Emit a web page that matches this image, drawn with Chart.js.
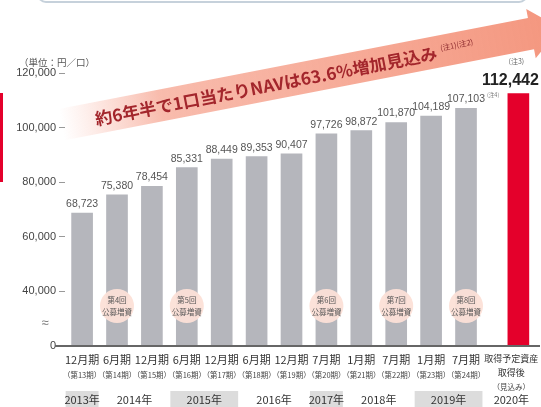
<!DOCTYPE html>
<html lang="ja">
<head>
<meta charset="utf-8">
<script src="https://cdn.jsdelivr.net/npm/chart.js@4.4.1/dist/chart.umd.min.js"></script>
<style>
  html, body { margin: 0; padding: 0; background: #fff; }
  #wrap { width: 541px; height: 407px; position: relative; }
</style>
</head>
<body>
<div id="wrap"><canvas id="chart"></canvas></div>
<script>
// 1口当たりNAV（円／口）
const periods = ['12月期', '6月期', '12月期', '6月期', '12月期', '6月期', '12月期', '7月期', '1月期', '7月期', '1月期', '7月期', ['取得予定資産', '取得後']];
const periodNos = ['（第13期）', '（第14期）', '（第15期）', '（第16期）', '（第17期）', '（第18期）', '（第19期）', '（第20期）', '（第21期）', '（第22期）', '（第23期）', '（第24期）', '（見込み）'];
const navValues = [68723, 75380, 78454, 85331, 88449, 89353, 90407, 97726, 98872, 101870, 104189, 107103, 112442];
const valueNotes = ['', '', '', '', '', '', '', '', '', '', '', '(注4)', '(注3)'];
const offerings = ['', '第4回', '', '第5回', '', '', '', '第6回', '', '第7回', '', '第8回', ''];

const years = ['2013年', '2014年', '2015年', '2016年', '2017年', '2018年', '2019年', '2020年'];
const yearFirst = [0, 1, 3, 5, 7, 8, 10, 12];
const yearLast = [0, 2, 4, 6, 7, 9, 11, 12];
const yearShaded = [true, false, true, false, true, false, true, false];

// broken axis: the bottom tick (20,000) is shown as 0
const yTicks = [20000, 40000, 60000, 80000, 100000, 120000];
const yTickLabels = ['0', '40,000', '60,000', '80,000', '100,000', '120,000'];

const headline = '約6年半で1口当たりNAVは63.6%増加見込み';
const headlineNote = '(注1)(注2)';
const unitLabel = '（単位：円／口）';

const JP = "'Noto Sans CJK JP', 'Noto Sans', sans-serif";
const NUM = "'Liberation Sans', Arial, sans-serif";
const last = navValues.length - 1;
const xOf = i => i + (i === last ? 0.5 : 0); // extra gap before the forecast bar
const lastShift = -7; // texts of the last column sit a bit left of its bar

const decor = {
    id: 'decor',
    beforeDraw(chart) {
        const ctx = chart.ctx;
        ctx.save();
        // top frame edge
        ctx.strokeStyle = '#c6d1db';
        ctx.lineWidth = 2;
        ctx.beginPath();
        ctx.roundRect(38, -20, 489, 22, 8);
        ctx.stroke();
        // red stripe at the left
        ctx.fillStyle = '#e4002b';
        ctx.fillRect(0, 93, 3, 89);
        // unit
        ctx.fillStyle = '#555';
        ctx.font = '9.5px ' + JP;
        ctx.textBaseline = 'middle';
        ctx.fillText(unitLabel, 19, 62);

        // arrow band
        const ang = Math.atan2(53 - 117, 431 - 101);
        ctx.translate(101, 117);
        ctx.rotate(ang);
        const u0 = -40, u1 = 438, tip = 468, hw = 16, hh = 25;
        const g = ctx.createLinearGradient(u0, 0, tip, 0);
        g.addColorStop(0, 'rgba(248,175,158,0)');
        g.addColorStop(0.2, 'rgba(246,165,145,0.75)');
        g.addColorStop(1, 'rgb(244,150,126)');
        ctx.fillStyle = g;
        ctx.beginPath();
        ctx.moveTo(u0, -hw);
        ctx.lineTo(u1, -hw);
        ctx.lineTo(u1, -hh);
        ctx.lineTo(tip, 0);
        ctx.lineTo(u1, hh);
        ctx.lineTo(u1, hw);
        ctx.lineTo(u0, hw);
        ctx.closePath();
        ctx.fill();

        ctx.font = 'bold 17px ' + JP;
        ctx.textAlign = 'left';
        ctx.textBaseline = 'middle';
        const w = ctx.measureText(headline).width;
        const target = 348;
        ctx.save();
        ctx.translate(-6, 1);
        ctx.scale(target / w, 1);
        ctx.fillStyle = '#a3262c';
        ctx.fillText(headline, 0, 0);
        ctx.restore();
        ctx.font = '7.5px ' + JP;
        ctx.fillStyle = '#8c2a2e';
        ctx.fillText(headlineNote, -6 + target + 4, -3);
        ctx.restore();
    },
    afterDatasetsDraw(chart) {
        const ctx = chart.ctx;
        const meta = chart.getDatasetMeta(0);
        const x = chart.scales.x;
        const area = chart.chartArea;
        const colX = i => x.getPixelForValue(xOf(i)) + (i === last ? lastShift : 0);
        ctx.save();

        // offering bubbles
        offerings.forEach((t, i) => {
            if (!t) return;
            const bx = meta.data[i].x;
            ctx.fillStyle = 'rgba(252,224,215,0.95)';
            ctx.beginPath();
            ctx.arc(bx, 306, 17, 0, Math.PI * 2);
            ctx.fill();
            ctx.fillStyle = '#555';
            ctx.font = '7.5px ' + JP;
            ctx.textAlign = 'center';
            ctx.textBaseline = 'middle';
            ctx.fillText(t, bx, 300);
            ctx.fillText('公募増資', bx, 312);
        });

        // value labels
        meta.data.forEach((bar, i) => {
            ctx.textAlign = 'center';
            ctx.textBaseline = 'alphabetic';
            if (i === last) {
                ctx.fillStyle = '#222';
                ctx.font = 'bold 16px ' + NUM;
                ctx.fillText(navValues[i].toLocaleString('en-US'), bar.x - 8, bar.y - 9);
                ctx.fillStyle = '#666';
                ctx.font = '7px ' + JP;
                ctx.fillText(valueNotes[i], bar.x - 2, bar.y - 30);
            } else {
                ctx.fillStyle = '#555';
                ctx.font = '10.5px ' + NUM;
                const s = navValues[i].toLocaleString('en-US');
                ctx.fillText(s, bar.x, bar.y - 6);
                if (valueNotes[i]) {
                    const sw = ctx.measureText(s).width;
                    ctx.font = '5.5px ' + JP;
                    ctx.textAlign = 'left';
                    ctx.fillStyle = '#777';
                    ctx.fillText(valueNotes[i], bar.x + sw / 2 + 2, bar.y - 11);
                }
            }
        });

        // baseline and axis break mark
        ctx.strokeStyle = '#666';
        ctx.lineWidth = 2;
        ctx.beginPath();
        ctx.moveTo(55, area.bottom);
        ctx.lineTo(area.right, area.bottom);
        ctx.stroke();
        ctx.fillStyle = '#777';
        ctx.font = '13px ' + NUM;
        ctx.textAlign = 'center';
        ctx.textBaseline = 'middle';
        ctx.fillText('≈', 45, 323);

        // label of the forecast column
        ctx.fillStyle = '#333';
        ctx.font = '9px ' + JP;
        periods[last].forEach((t, k) => ctx.fillText(t, colX(last), 359 + k * 14));

        // period numbers
        ctx.font = '7.5px ' + JP;
        ctx.fillStyle = '#444';
        periodNos.forEach((t, i) => {
            ctx.fillText(t, colX(i), i === last ? 387 : 375);
        });

        // year row
        const half = x.getPixelForValue(1) - x.getPixelForValue(0);
        years.forEach((t, k) => {
            const a = colX(yearFirst[k]) - half / 2 + 1;
            const b = colX(yearLast[k]) + half / 2 - 1;
            if (yearShaded[k]) {
                ctx.fillStyle = '#dcdcdc';
                ctx.fillRect(a, 391, b - a, 16);
            }
            ctx.fillStyle = '#333';
            ctx.font = '11px ' + JP;
            ctx.fillText(t, (a + b) / 2, 400);
        });
        ctx.restore();
    }
};

new Chart(document.getElementById('chart'), {
    type: 'bar',
    data: {
        datasets: [{
            data: navValues.map((v, i) => ({ x: xOf(i), y: v })),
            backgroundColor: navValues.map((v, i) => i === last ? '#e4002b' : '#b5b6bc'),
            barThickness: 21
        }]
    },
    options: {
        responsive: true,
        maintainAspectRatio: false,
        animation: false,
        layout: { padding: { top: 73, right: 1, left: 0, bottom: 0 } },
        plugins: {
            legend: { display: false },
            tooltip: { enabled: false }
        },
        scales: {
            x: {
                type: 'linear',
                offset: false,
                min: -0.49,
                max: 13.12,
                grid: { display: false, drawTicks: false, offset: false },
                border: { display: false },
                afterBuildTicks: axis => { axis.ticks = periods.map((p, i) => ({ value: xOf(i) })); },
                afterFit: axis => {
                    axis.height = 61;
                    axis.paddingLeft = 0;
                    axis.paddingRight = 0;
                },
                ticks: {
                    autoSkip: false,
                    maxRotation: 0,
                    padding: 7,
                    color: '#333',
                    font: { size: 11, family: JP, lineHeight: 1.2 },
                    // the forecast column label is drawn by the decor plugin
                    callback: (v, i) => i === last ? '' : periods[i]
                }
            },
            y: {
                min: 20000,
                max: 120000,
                grid: { display: true, drawOnChartArea: false, drawTicks: true, tickLength: 6, tickColor: '#999' },
                border: { display: false },
                afterBuildTicks: axis => { axis.ticks = yTicks.map(v => ({ value: v })); },
                afterFit: axis => {
                    axis.width = 65;
                    axis.paddingTop = 0;
                    axis.paddingBottom = 0;
                },
                ticks: {
                    padding: 3,
                    color: '#444',
                    font: { size: 11, family: NUM },
                    callback: (v, i) => yTickLabels[i]
                }
            }
        }
    },
    plugins: [decor]
});
</script>
</body>
</html>
